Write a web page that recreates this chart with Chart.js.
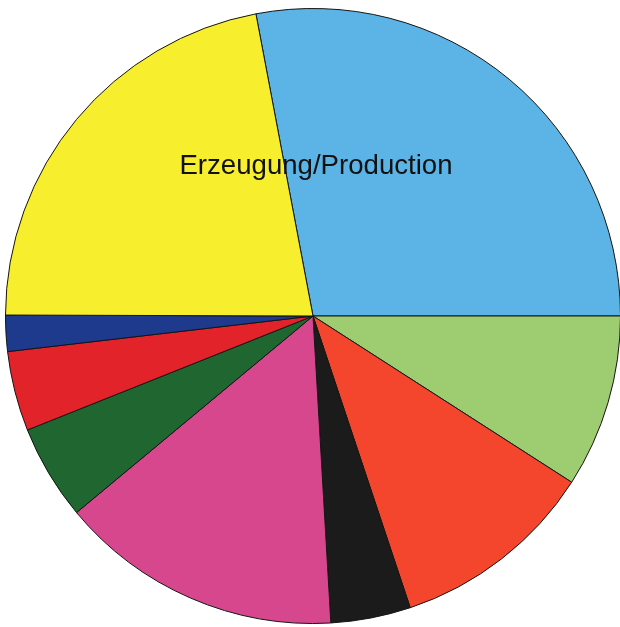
<!DOCTYPE html>
<html>
<head>
<meta charset="utf-8">
<script src="https://cdn.jsdelivr.net/npm/chart.js@4"></script>
<style>
  html, body { margin: 0; padding: 0; background: #ffffff; width: 620px; height: 627px; overflow: hidden; }
  #wrap { position: absolute; left: 5px; top: 8px; width: 616px; height: 616px; }
  #title { position: absolute; left: 0; width: 632px; top: 151px; text-align: center;
           font-family: "Liberation Sans", Arial, sans-serif; font-size: 27.6px; line-height: 28px; color: #111; }
</style>
</head>
<body>
<div id="wrap"><canvas id="c"></canvas></div>
<div id="title">Erzeugung/Production</div>
<script>
const categories = ["Blau", "Hellgrün", "Orange", "Schwarz", "Rosa", "Dunkelgrün", "Rot", "Dunkelblau", "Gelb"];
const shares = [28.0, 9.1, 10.8, 4.2, 14.9, 5.0, 4.2, 1.9, 22.0];
const colors = ["#5cb3e6", "#9dcd70", "#f4462c", "#1b1b1b", "#d6478e", "#1f6631", "#e3232a", "#1d3a8c", "#f7ef2e"];

new Chart(document.getElementById("c"), {
  type: "pie",
  data: {
    labels: categories,
    datasets: [{
      data: shares,
      backgroundColor: colors,
      borderColor: "#141414",
      borderWidth: 1
    }]
  },
  options: {
    responsive: true,
    maintainAspectRatio: false,
    animation: false,
    rotation: -10.7,
    layout: { padding: 0 },
    plugins: { legend: { display: false }, tooltip: { enabled: false }, title: { display: false } }
  }
});
</script>
</body>
</html>
